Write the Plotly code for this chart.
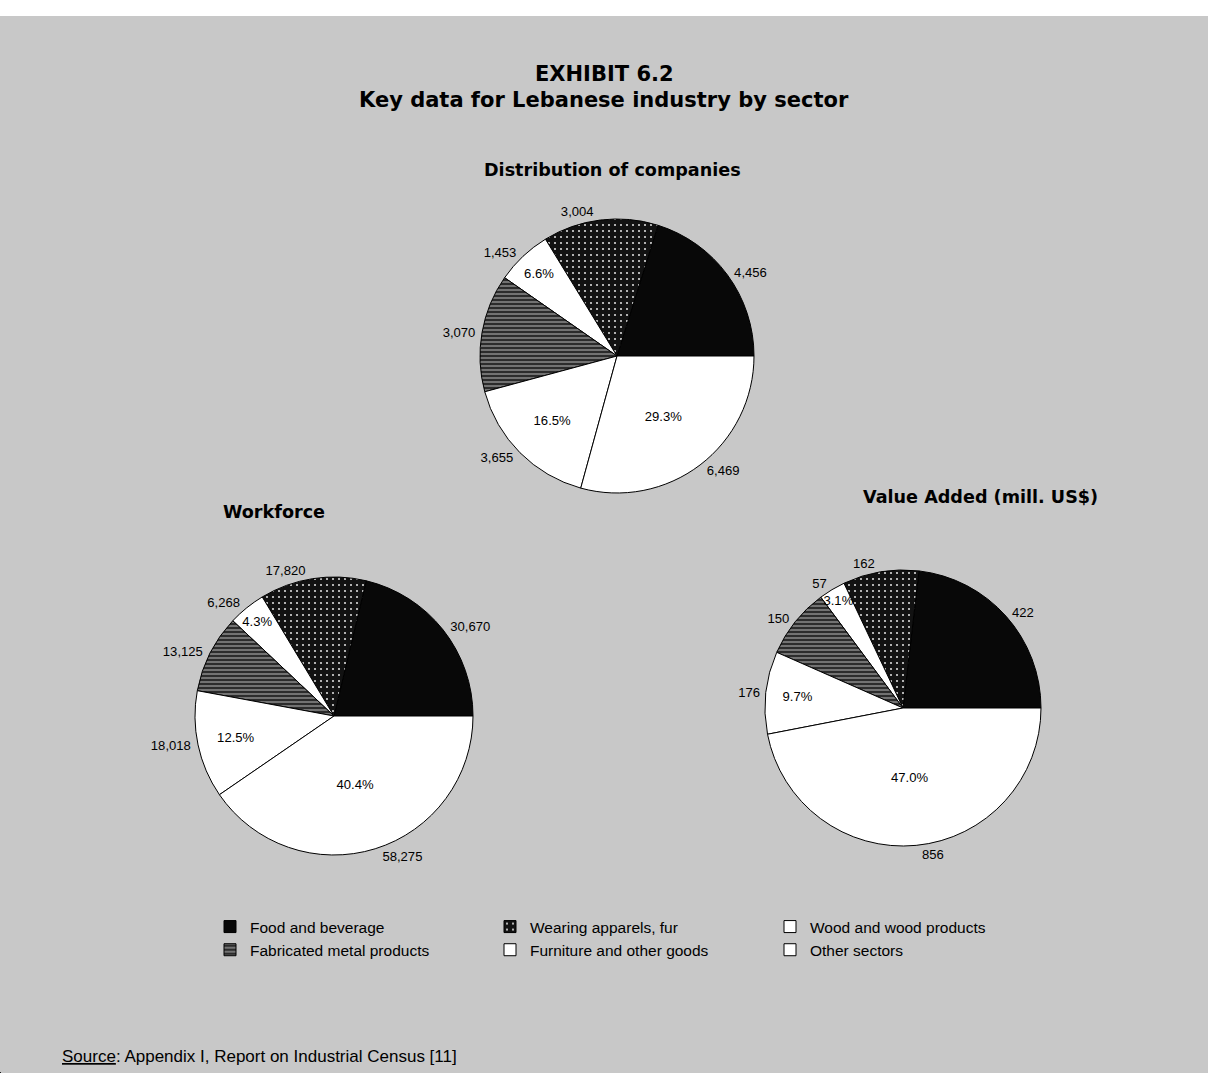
import plotly.graph_objects as go

sectors = ["Food and beverage", "Wearing apparels, fur", "Wood and wood products",
           "Fabricated metal products", "Furniture and other goods", "Other sectors"]
companies = [4456, 3004, 1453, 3070, 3655, 6469]
workforce = [30670, 17820, 6268, 13125, 18018, 58275]
value_added = [422, 162, 57, 150, 176, 856]

pie_titles = ["Distribution of companies", "Workforce", "Value Added (mill. US$)"]
show_pct = [False, False, True, False, True, True]

W, H = 1208, 1073
SANS = "Liberation Sans, Arial"
WIDE = "DejaVu Sans"

def dom(cx, cy, r):
    return dict(x=[(cx - r) / W, (cx + r) / W], y=[1 - (cy + r) / H, 1 - (cy - r) / H])

colors = ["#080808", "#121212", "#ffffff", "#2c2c2c", "#ffffff", "#ffffff"]
pat_shape = ["", ".", "", "-", "", ""]
pat_fg = ["#000", "#d8d8d8", "#000", "#b8b8b8", "#000", "#000"]
pat_size = [6, 6, 6, 4, 6, 6]
pat_sol = [0.3, 0.1, 0.3, 0.25, 0.3, 0.3]

def marker_for(idx):
    return dict(colors=[colors[k] for k in idx], line=dict(color="#000", width=1),
                pattern=dict(shape=[pat_shape[k] for k in idx], fgcolor=[pat_fg[k] for k in idx],
                             bgcolor=[colors[k] for k in idx], size=[pat_size[k] for k in idx],
                             solidity=[pat_sol[k] for k in idx]))

allidx = list(range(len(sectors)))
fig = go.Figure()
pies = [(companies, dom(617, 356, 137)), (workforce, dom(334, 716, 139)), (value_added, dom(903, 708, 138))]
for i, (vals, d) in enumerate(pies):
    # first slice starts at 3 o'clock and slices run counterclockwise
    rot = 90 - 360 * vals[0] / sum(vals)
    fig.add_trace(go.Pie(
        labels=sectors, values=vals, domain=d, sort=False, direction="counterclockwise",
        rotation=rot, marker=marker_for(allidx),
        textposition="outside", texttemplate="%{value:,}",
        outsidetextfont=dict(size=15, color="#000", family=SANS),
        showlegend=False, hoverinfo="label+value+percent"))
    fig.add_trace(go.Pie(
        labels=sectors, values=vals, domain=d, sort=False, direction="counterclockwise",
        rotation=rot, marker=dict(colors=["rgba(0,0,0,0)"] * 6, line=dict(width=0)),
        textposition="inside", insidetextorientation="horizontal",
        texttemplate=["%{percent:.1%}" if s else "" for s in show_pct],
        insidetextfont=dict(size=15, color="#000", family=SANS),
        showlegend=False, hoverinfo="skip"))

# legend: three columns of two entries (legend-only helper pies, zero-size domain)
legend_cols = [[0, 3], [1, 4], [2, 5]]
legend_ids = ["legend", "legend2", "legend3"]
legend_x = [210, 490, 770]
for idx, lid in zip(legend_cols, legend_ids):
    fig.add_trace(go.Pie(
        labels=[sectors[k] for k in idx], values=[1] * len(idx), sort=False,
        domain=dict(x=[0, 0.0002], y=[0, 0.0002]), marker=marker_for(idx),
        textinfo="none", hoverinfo="skip", showlegend=True, legend=lid))

ann = [
    dict(text="<b>EXHIBIT 6.2</b>", x=604 / W, y=1 - 74 / H, size=21, fam=WIDE),
    dict(text="<b>Key data for Lebanese industry by sector</b>", x=604 / W, y=1 - 100 / H, size=21, fam=WIDE),
    dict(text="<b>" + pie_titles[0] + "</b>", x=612 / W, y=1 - 170 / H, size=17.6, fam=WIDE),
    dict(text="<b>" + pie_titles[1] + "</b>", x=274 / W, y=1 - 512 / H, size=17.6, fam=WIDE),
    dict(text="<b>" + pie_titles[2] + "</b>", x=980 / W, y=1 - 497 / H, size=17.6, fam=WIDE),
]
annotations = [dict(text=a["text"], x=a["x"], y=a["y"], xref="paper", yref="paper",
                    showarrow=False, xanchor="center", yanchor="middle",
                    font=dict(size=a["size"], color="#000", family=a["fam"]))
               for a in ann]
annotations.append(dict(text="<u>Source</u>: Appendix I, Report on Industrial Census [11]",
                        x=60 / W, y=1 - 1056 / H, xref="paper", yref="paper", showarrow=False,
                        xanchor="left", yanchor="middle",
                        font=dict(size=17, color="#000", family=SANS)))

legends = {}
for lid, lx in zip(legend_ids, legend_x):
    legends[lid] = dict(orientation="v", x=lx / W, y=1 - 910 / H, xanchor="left", yanchor="top",
                        bgcolor="rgba(0,0,0,0)", font=dict(size=15.5, color="#000", family=SANS))

fig.update_layout(
    width=W, height=H, margin=dict(l=0, r=0, t=0, b=0),
    paper_bgcolor="#c8c8c8", plot_bgcolor="#c8c8c8",
    annotations=annotations,
    shapes=[dict(type="rect", xref="paper", yref="paper", x0=0, x1=1, y0=1 - 16 / H, y1=1,
                 fillcolor="#ffffff", line=dict(width=0), layer="below")],
    uniformtext=dict(mode="show", minsize=13),
    **legends,
)

fig.write_html("out.html")
